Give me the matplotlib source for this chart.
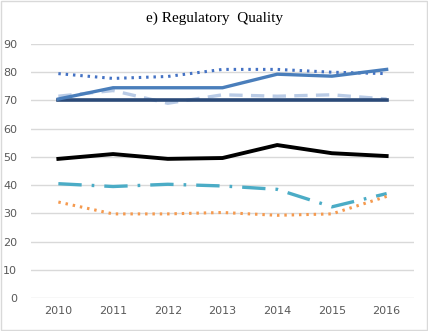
import numpy as np
import matplotlib
matplotlib.use("Agg")
import matplotlib.pyplot as plt
from matplotlib.patches import Rectangle

# data
years = ['2010', '2011', '2012', '2013', '2014', '2015', '2016']
dotted_blue = [79.5, 77.8, 78.5, 81.0, 81.0, 80.0, 79.5]
solid_blue = [70.5, 74.5, 74.5, 74.5, 79.3, 78.6, 81.0]
dashed_light = [71.5, 73.5, 69.0, 72.0, 71.5, 72.0, 70.5]
navy_flat = [70.0, 70.0, 70.0, 70.0, 70.0, 70.0, 70.0]
black_line = [49.3, 51.0, 49.3, 49.6, 54.2, 51.3, 50.3]
teal_dashdot = [40.5, 39.5, 40.3, 39.7, 38.5, 32.3, 37.0]
orange_dotted = [34.0, 29.8, 29.8, 30.3, 29.3, 29.8, 36.0]
yticks = [0, 10, 20, 30, 40, 50, 60, 70, 80, 90]

x = np.arange(len(years))

fig = plt.figure(figsize=(4.28, 3.31), dpi=100)
ax = fig.add_axes([31/428, 1-298/331, (414-31)/428, (298-44)/331])

# light frame round the whole chart
fig.patches.append(Rectangle((0.002, 0.003), 0.995, 0.994, transform=fig.transFigure,
                             fill=False, edgecolor='#d9d9d9', linewidth=1))

for v in yticks:
    ax.axhline(v, color='#d9d9d9', linewidth=1, zorder=0)

ax.plot(x, dashed_light, color='#b9cbe6', linewidth=2.4, linestyle=(0, (4, 2.5)), solid_capstyle='butt')
ax.plot(x, dotted_blue, color='#4472c4', linewidth=2.2, linestyle=(0, (0.8, 1.6)), dash_capstyle='butt')
ax.plot(x, navy_flat, color='#2b4a78', linewidth=2.6)
ax.plot(x, solid_blue, color='#4a7ebb', linewidth=2.4)
ax.plot(x, black_line, color='black', linewidth=2.8)
ax.plot(x, teal_dashdot, color='#4bacc6', linewidth=2.4, linestyle=(0, (7, 3, 0.8, 3)))
ax.plot(x, orange_dotted, color='#f59a4f', linewidth=2.2, linestyle=(0, (0.8, 1.6)))

ax.set_xlim(-0.5, 6.5)
ax.set_ylim(0, 90)
ax.set_xticks(x)
ax.set_xticklabels(years)
ax.set_yticks(yticks)
ax.tick_params(length=0, labelsize=8, labelcolor='#595959', pad=6)
ax.tick_params(axis='y', pad=10)
for s in ax.spines.values():
    s.set_visible(False)

fig.text(0.5, 1-18/331, 'e) Regulatory  Quality', ha='center', va='center',
         fontsize=11, family='Liberation Serif')

fig.savefig('out.png', dpi=100)
